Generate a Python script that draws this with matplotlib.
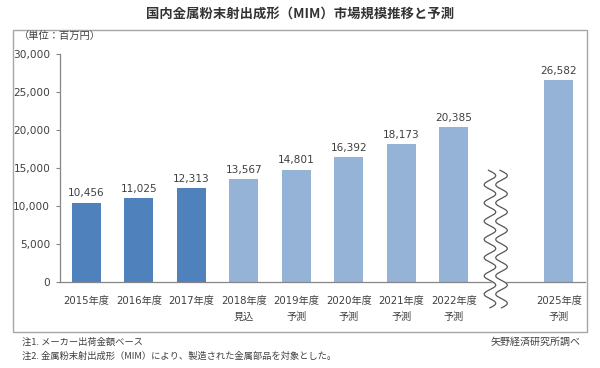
import numpy as np
import matplotlib
matplotlib.use("Agg")
import matplotlib.pyplot as plt
from matplotlib.patches import Rectangle

plt.rcParams['font.family'] = ['Noto Sans CJK JP', 'DejaVu Sans']
NUMFONT = ['DejaVu Sans', 'Noto Sans CJK JP']

# ---- data ----
years = ["2015年度", "2016年度", "2017年度", "2018年度", "2019年度",
         "2020年度", "2021年度", "2022年度", "2025年度"]
sublabels = ["", "", "", "見込", "予測", "予測", "予測", "予測", "予測"]
values = [10456, 11025, 12313, 13567, 14801, 16392, 18173, 20385, 26582]
actual = [True, True, True, False, False, False, False, False, False]
slots = [0, 1, 2, 3, 4, 5, 6, 7, 9]  # slot 8 is the axis break
yticks = [0, 5000, 10000, 15000, 20000, 25000, 30000]

title = "国内金属粉末射出成形（MIM）市場規模推移と予測"
unit = "（単位：百万円）"
note1 = "注1. メーカー出荷金額ベース"
note2 = "注2. 金属粉末射出成形（MIM）により、製造された金属部品を対象とした。"
source = "矢野経済研究所調べ"

W, H = 600, 368
fig = plt.figure(figsize=(6.0, 3.68), dpi=100)
fig.patch.set_facecolor('white')

# axes placement in pixels
L, R, T, B = 60, 585, 54, 282
ax = fig.add_axes([L / W, 1 - B / H, (R - L) / W, (B - T) / H])

dark = '#4F81BD'
light = '#95B3D7'
txt = '#404040'
colors = [dark if a else light for a in actual]

ax.bar(slots, values, width=0.55, color=colors, zorder=2)
for x, v in zip(slots, values):
    ax.annotate(f"{v:,}", (x, v), xytext=(0, 3), textcoords='offset points',
                ha='center', va='bottom', fontsize=7.6, color=txt, family=NUMFONT)

ax.set_xlim(-0.5, 9.5)
ax.set_ylim(0, 30000)
ax.set_yticks(yticks)
ax.set_yticklabels([f"{t:,}" for t in yticks], fontsize=7.6, color=txt, family=NUMFONT)
ax.set_xticks(slots)
labels = [y + ("\n" + s if s else "") for y, s in zip(years, sublabels)]
ax.set_xticklabels(labels, fontsize=7.3, color=txt, va='top', family=NUMFONT)
for lab in ax.get_xticklabels():
    lab.set_linespacing(1.75)
ax.tick_params(axis='x', length=0, pad=10)
ax.tick_params(axis='y', length=3, direction='out', color='#868686', pad=4)
for s in ['top', 'right']:
    ax.spines[s].set_visible(False)
for s in ['left', 'bottom']:
    ax.spines[s].set_color('#868686')
    ax.spines[s].set_linewidth(0.9)

# axis-break wavy lines
yy = np.linspace(-3400, 14700, 400)
ph = (yy - yy[0]) / 2400.0 * 2 * np.pi
x1 = 7.69 + 0.11 * np.sin(ph)
x2 = 7.91 + 0.11 * np.sin(ph)
ax.fill_betweenx(yy, x1, x2, color='white', zorder=3, clip_on=False)
ax.plot(x1, yy, color='#555555', lw=0.9, zorder=4, clip_on=False)
ax.plot(x2, yy, color='#555555', lw=0.9, zorder=4, clip_on=False)

# outer frame
fig.patches.append(Rectangle((13 / W, 1 - 332 / H), (587 - 13) / W, (332 - 30) / H,
                             transform=fig.transFigure, fill=False,
                             edgecolor='#A6A6A6', lw=1.0))

fig.text(0.5, 1 - 14 / H, title, ha='center', va='center', fontsize=9.6,
         color='#333333', fontweight='bold')
fig.text(19 / W, 1 - 36 / H, unit, ha='left', va='center', fontsize=7.4, color=txt)
fig.text(22 / W, 1 - 342 / H, note1, ha='left', va='center', fontsize=6.7, color=txt)
fig.text(22 / W, 1 - 356 / H, note2, ha='left', va='center', fontsize=6.7, color=txt)
fig.text(581 / W, 1 - 342 / H, source, ha='right', va='center', fontsize=7.2, color=txt)

fig.savefig('out.png', dpi=100, facecolor='white')
